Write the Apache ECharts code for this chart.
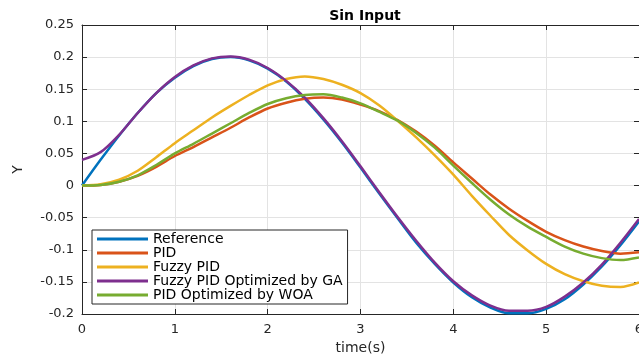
<!DOCTYPE html>
<html>
<head>
<meta charset="utf-8">
<script src="https://cdn.jsdelivr.net/npm/echarts@6/dist/echarts.min.js"></script>
<style>
  html, body { margin: 0; padding: 0; background: #fff; }
  #chart { width: 639px; height: 354px; }
</style>
</head>
<body>
<div id="chart"></div>
<script>
// time samples (s)
var time = [0, 0.2, 0.4, 0.6, 0.8, 1, 1.2, 1.4, 1.6, 1.8, 2, 2.2, 2.4, 2.6, 2.8, 3,
            3.2, 3.4, 3.6, 3.8, 4, 4.2, 4.4, 4.6, 4.8, 5, 5.2, 5.4, 5.6, 5.8, 6];

// curves
var reference = [0, 0.040, 0.078, 0.113, 0.144, 0.168, 0.186, 0.197, 0.200, 0.195, 0.182, 0.162, 0.135, 0.103, 0.067, 0.028,
                 -0.012, -0.051, -0.089, -0.122, -0.151, -0.174, -0.190, -0.199, -0.199, -0.192, -0.177, -0.154, -0.126, -0.093, -0.056];
var pid = [0, 0.001, 0.006, 0.015, 0.029, 0.046, 0.060, 0.075, 0.090, 0.106, 0.120, 0.129, 0.135, 0.137, 0.134, 0.126,
           0.116, 0.102, 0.084, 0.062, 0.036, 0.011, -0.014, -0.036, -0.055, -0.072, -0.085, -0.095, -0.102, -0.106, -0.104];
var fuzzyPid = [0, 0.002, 0.009, 0.023, 0.044, 0.066, 0.086, 0.106, 0.124, 0.141, 0.156, 0.166, 0.170, 0.166, 0.157, 0.144,
                0.125, 0.101, 0.075, 0.047, 0.017, -0.016, -0.047, -0.077, -0.101, -0.122, -0.138, -0.149, -0.156, -0.158, -0.151];
var fuzzyGa = [0.040, 0.052, 0.079, 0.113, 0.144, 0.169, 0.187, 0.198, 0.201, 0.196, 0.183, 0.163, 0.137, 0.105, 0.069, 0.030,
               -0.010, -0.049, -0.086, -0.120, -0.149, -0.171, -0.187, -0.195, -0.195, -0.189, -0.173, -0.151, -0.123, -0.089, -0.052];
var woa = [0, 0.001, 0.006, 0.016, 0.032, 0.050, 0.065, 0.081, 0.097, 0.113, 0.127, 0.136, 0.141, 0.142, 0.137, 0.128,
           0.115, 0.101, 0.082, 0.059, 0.031, 0.004, -0.022, -0.045, -0.064, -0.080, -0.095, -0.106, -0.113, -0.116, -0.112];

var names = ['Reference', 'PID', 'Fuzzy PID', 'Fuzzy PID Optimized by GA', 'PID Optimized by WOA'];
var colors = ['#0072BD', '#D95319', '#EDB120', '#7E2F8E', '#77AC30'];
var curves = [reference, pid, fuzzyPid, fuzzyGa, woa];

function pairs(ys) {
    return ys.map(function (y, i) { return [time[i], y]; });
}

var axisColor = '#262626';
var font = 'DejaVu Sans';

var chart = echarts.init(document.getElementById('chart'));
chart.setOption({
    animation: false,
    title: {
        text: 'Sin Input',
        left: 360, top: 4, textAlign: 'center',
        textStyle: { fontFamily: font, fontSize: 14, fontWeight: 'bold', color: '#000' }
    },
    grid: { left: 82, right: 0, top: 25, bottom: 40, outerBoundsMode: 'none' },
    legend: {
        orient: 'vertical',
        left: 92, top: 230,
        padding: [2, 5, 2, 5],
        itemGap: 0,
        itemWidth: 51, itemHeight: 3,
        icon: 'rect',
        backgroundColor: '#fff',
        borderColor: axisColor, borderWidth: 1, borderRadius: 0,
        textStyle: { fontFamily: font, fontSize: 14, color: '#000', lineHeight: 14 },
        data: names
    },
    xAxis: [{
        type: 'value', min: 0, max: 6, interval: 1,
        name: 'time(s)', nameLocation: 'middle', nameGap: 23,
        nameTextStyle: { fontFamily: font, fontSize: 14, color: axisColor },
        axisLine: { onZero: false, lineStyle: { color: axisColor, width: 1 } },
        axisTick: { inside: true, length: 5, lineStyle: { color: axisColor } },
        axisLabel: { fontFamily: font, fontSize: 13, color: axisColor, margin: 9 },
        splitLine: { show: true, lineStyle: { color: '#e3e3e3', width: 1 } }
    }, {
        type: 'value', min: 0, max: 6, interval: 1, position: 'top',
        axisLine: { onZero: false, lineStyle: { color: axisColor, width: 1 } },
        axisTick: { inside: true, length: 5, lineStyle: { color: axisColor } },
        axisLabel: { show: false },
        splitLine: { show: false }
    }],
    yAxis: [{
        type: 'value', min: -0.2, max: 0.25, interval: 0.05,
        name: 'Y', nameLocation: 'middle', nameGap: 57, nameRotate: 90,
        nameTextStyle: { fontFamily: font, fontSize: 14, color: axisColor },
        axisLine: { show: true, onZero: false, lineStyle: { color: axisColor, width: 1 } },
        axisTick: { show: true, inside: true, length: 5, lineStyle: { color: axisColor } },
        axisLabel: { fontFamily: font, fontSize: 13, color: axisColor, margin: 8 },
        splitLine: { show: true, lineStyle: { color: '#e3e3e3', width: 1 } }
    }, {
        type: 'value', min: -0.2, max: 0.25, interval: 0.05, position: 'right',
        axisLine: { show: true, onZero: false, lineStyle: { color: axisColor, width: 1 } },
        axisTick: { show: true, inside: true, length: 5, lineStyle: { color: axisColor } },
        axisLabel: { show: false },
        splitLine: { show: false }
    }],
    series: curves.map(function (ys, k) {
        return {
            name: names[k],
            type: 'line',
            xAxisIndex: 0, yAxisIndex: 0,
            data: pairs(ys),
            smooth: 0.3,
            showSymbol: false,
            color: colors[k],
            lineStyle: { width: 2.5, color: colors[k] },
            z: 2 + k
        };
    })
});
</script>
</body>
</html>
